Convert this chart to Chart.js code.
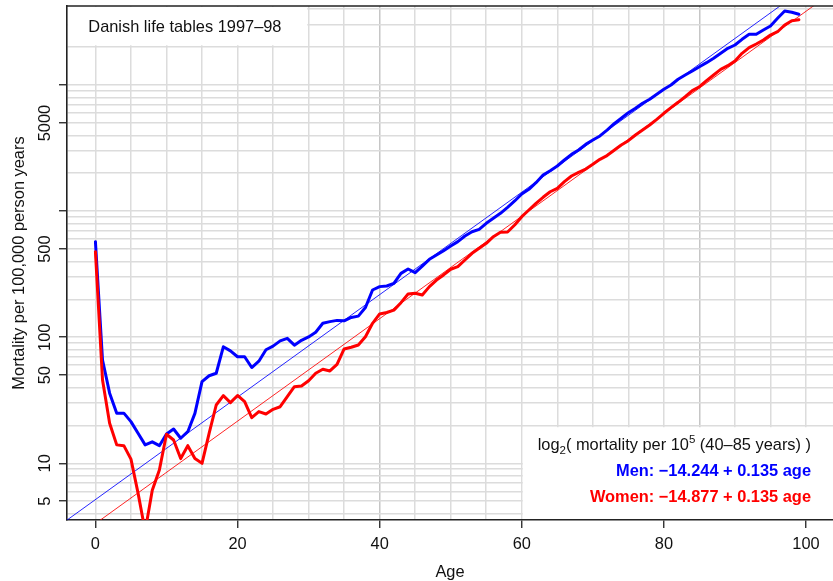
<!DOCTYPE html>
<html>
<head>
<meta charset="utf-8">
<script src="https://cdn.jsdelivr.net/npm/chart.js@4/dist/chart.umd.min.js"></script>
<style>
html,body{margin:0;padding:0;background:#fff;}
canvas{display:block;}
</style>
</head>
<body>
<canvas id="c" width="833" height="581"></canvas>
<script>
// ---------- data ----------
const ages = [0,1,2,3,4,5,6,7,8,9,10,11,12,13,14,15,16,17,18,19,20,21,22,23,24,25,26,27,28,29,
  30,31,32,33,34,35,36,37,38,39,40,41,42,43,44,45,46,47,48,49,50,51,52,53,54,55,56,57,58,59,
  60,61,62,63,64,65,66,67,68,69,70,71,72,73,74,75,76,77,78,79,80,81,82,83,84,85,86,87,88,89,
  90,91,92,93,94,95,96,97,98,99];

const menRates = [573,66,36,25,25,21.4,17.3,14.0,14.8,13.8,
  17.1,18.7,15.8,17.8,24.9,44.4,49.5,51.8,84,78,
  70,70,57.5,64.5,79.5,85,93.5,98,86.5,94.5,
  100.5,109.5,129,133,136,135,143.5,147,172,237,
  252,255,267,321,348,325,367,415,449,486,
  529,573,635,687,718,801,878,962,1073,1205,
  1369,1490,1683,1936,2094,2281,2546,2825,3055,3390,
  3666,3950,4400,4940,5456,6042,6545,7177,7715,8455,
  9272,10025,11120,12025,12940,13990,15060,16320,17870,19590,
  20800,23070,25290,25290,27350,29430,33880,38730,37790,36460];

const womenRates = [477,45.8,20.8,14.0,13.8,10.8,5.8,2.9,6.1,8.85,
  17.0,15.3,10.9,13.8,10.9,10.0,17.3,29,34.4,30.3,
  34.5,30.8,23.0,25.7,24.6,26.8,28.1,33.8,40.5,41,
  45.2,51.8,55.7,54,61,80.7,83.2,86.8,101,129,
  153,157,164,188,220,223,216,252,284,312,
  346,363,410,463,508,556,627,680,684,776,
  904,1021,1154,1288,1426,1518,1713,1900,2033,2159,
  2353,2577,2760,3040,3350,3623,4018,4403,4824,5354,
  5976,6620,7300,8090,9036,9709,10840,12025,13340,14260,
  15530,17870,19800,21180,22790,24950,26500,29980,32430,33000];

// log2(rate) = intercept + slope * age  (fitted 40-85 years)
const menFit = [-14.244, 0.135];
const womenFit = [-14.877, 0.135];
const fitRange = [40, 85];

const xRange = [-4.0, 103.8];
const yRange = [3.55, 42400];

const yGridValues = [4,5,6,7,8,9,10,20,30,40,50,60,70,80,90,100,200,300,400,500,600,700,800,900,
  1000,2000,3000,4000,5000,6000,7000,8000,9000,10000,20000,30000,40000];
const yTickMarks = [5,10,50,100,500,1000,5000,10000];
const yTickLabels = [5,10,50,100,500,5000];
const xGridValues = [0,5,10,15,20,25,30,35,40,45,50,55,60,65,70,75,80,85,90,95,100];
const xTickLabels = [0,20,40,60,80,100];

const titleText = 'Danish life tables 1997\u201398';
const xTitle = 'Age';
const yTitle = 'Mortality per 100,000 person years';
const menText = 'Men: \u221214.244 + 0.135 age';
const womenText = 'Women: \u221214.877 + 0.135 age';

// ---------- helpers ----------
const FONT = '"Liberation Sans", Arial, Helvetica, sans-serif';
const FS = 16.4;
function fitPoints(coef) {
  return xRange.map(a => ({x: a, y: 1e5 * Math.pow(2, coef[0] + coef[1] * a)}));
}
const toPts = arr => ages.map((a, i) => ({x: a, y: arr[i]}));

const decor = {
  id: 'decor',
  beforeDatasetsDraw(chart) {
    const {ctx, chartArea: a} = chart;
    ctx.save();
    ctx.fillStyle = '#ffffff';
    // top-left title box
    ctx.fillRect(a.left + 1, a.top + 1, 307.3 - (a.left + 1), 45.3 - (a.top + 1));
    // bottom-right equation box
    ctx.fillRect(522.8, 427.2, a.right - 522.8, a.bottom - 1 - 427.2);
    ctx.restore();
  },
  afterDraw(chart) {
    const {ctx, chartArea: a} = chart;
    const ys = chart.scales.y;
    ctx.save();
    // top frame line
    ctx.strokeStyle = '#222';
    ctx.lineWidth = 1.6;
    ctx.beginPath();
    ctx.moveTo(a.left - 0.8, a.top);
    ctx.lineTo(a.right, a.top);
    ctx.stroke();

    ctx.fillStyle = '#111';
    ctx.font = FS + 'px ' + FONT;
    // y tick labels (rotated)
    for (const v of yTickLabels) {
      const py = ys.getPixelForValue(v);
      ctx.save();
      ctx.translate(50, py);
      ctx.rotate(-Math.PI / 2);
      ctx.textAlign = 'center';
      ctx.textBaseline = 'alphabetic';
      ctx.fillText(String(v), 0, 0);
      ctx.restore();
    }
    // y title
    ctx.save();
    ctx.translate(24, (a.top + a.bottom) / 2);
    ctx.rotate(-Math.PI / 2);
    ctx.textAlign = 'center';
    ctx.textBaseline = 'alphabetic';
    ctx.fillText(yTitle, 0, 0);
    ctx.restore();
    // x title
    ctx.textAlign = 'center';
    ctx.textBaseline = 'alphabetic';
    ctx.fillText(xTitle, (a.left + a.right) / 2, 576.5);
    // title in box
    ctx.textAlign = 'left';
    ctx.fillText(titleText, 88.3, 31.6);

    // equation heading with sub/superscripts
    const small = 11.5;
    const parts = [
      {t: 'log', s: FS, dy: 0},
      {t: '2', s: small, dy: 4.2},
      {t: '( mortality per 10', s: FS, dy: 0},
      {t: '5', s: small, dy: -7},
      {t: ' (40\u201385 years) )', s: FS, dy: 0}
    ];
    let total = 0;
    for (const p of parts) { ctx.font = p.s + 'px ' + FONT; p.w = ctx.measureText(p.t).width; total += p.w; }
    let x = 811 - total;
    ctx.textAlign = 'left';
    for (const p of parts) { ctx.font = p.s + 'px ' + FONT; ctx.fillText(p.t, x, 450 + p.dy); x += p.w; }

    ctx.font = 'bold ' + FS + 'px ' + FONT;
    ctx.textAlign = 'right';
    ctx.fillStyle = '#0000ff';
    ctx.fillText(menText, 811, 476);
    ctx.fillStyle = '#ff0000';
    ctx.fillText(womenText, 811, 501.7);
    ctx.restore();
  }
};

new Chart(document.getElementById('c'), {
  type: 'line',
  data: {
    datasets: [
      {data: fitPoints(menFit), borderColor: 'rgba(0,0,255,0.85)', borderWidth: 1, pointRadius: 0, clip: 0, order: 4},
      {data: fitPoints(womenFit), borderColor: 'rgba(255,0,0,0.85)', borderWidth: 1, pointRadius: 0, clip: 0, order: 3},
      {data: toPts(menRates), borderColor: '#0000ff', borderWidth: 3, pointRadius: 0, clip: 0,
       borderJoinStyle: 'round', borderCapStyle: 'round', order: 2},
      {data: toPts(womenRates), borderColor: '#ff0000', borderWidth: 3, pointRadius: 0, clip: 0,
       borderJoinStyle: 'round', borderCapStyle: 'round', order: 1}
    ]
  },
  options: {
    responsive: false,
    animation: false,
    events: [],
    layout: {padding: {top: 6, left: 0, right: 0, bottom: 0}},
    plugins: {legend: {display: false}, tooltip: {enabled: false}, title: {display: false}},
    elements: {line: {tension: 0}},
    scales: {
      x: {
        type: 'linear',
        position: 'bottom',
        min: xRange[0],
        max: xRange[1],
        bounds: 'data',
        afterBuildTicks: s => { s.ticks = xGridValues.map(v => ({value: v})); },
        afterFit: s => { s.height = 61; },
        ticks: {
          autoSkip: false,
          maxRotation: 0,
          minRotation: 0,
          padding: 6.7,
          color: '#111',
          font: {family: FONT, size: FS},
          callback: v => xTickLabels.includes(v) ? String(v) : ''
        },
        grid: {
          color: c => (c.tick && fitRange.includes(c.tick.value)) ? '#c6c6c6' : '#dcdcdc',
          lineWidth: 1.5,
          drawTicks: true,
          tickLength: 8,
          tickWidth: 1.3,
          tickColor: c => (c.tick && xTickLabels.includes(c.tick.value)) ? '#222' : 'rgba(0,0,0,0)'
        },
        border: {display: true, color: '#222', width: 1.6}
      },
      y: {
        type: 'logarithmic',
        position: 'left',
        min: yRange[0],
        max: yRange[1],
        bounds: 'data',
        afterBuildTicks: s => { s.ticks = yGridValues.map(v => ({value: v})); },
        afterFit: s => { s.width = 67; },
        ticks: {display: false, autoSkip: false},
        grid: {
          color: '#dcdcdc',
          lineWidth: 1.5,
          drawTicks: true,
          tickLength: 8,
          tickWidth: 1.3,
          tickColor: c => (c.tick && yTickMarks.includes(c.tick.value)) ? '#222' : 'rgba(0,0,0,0)'
        },
        border: {display: true, color: '#222', width: 1.6}
      }
    }
  },
  plugins: [decor]
});
</script>
</body>
</html>
